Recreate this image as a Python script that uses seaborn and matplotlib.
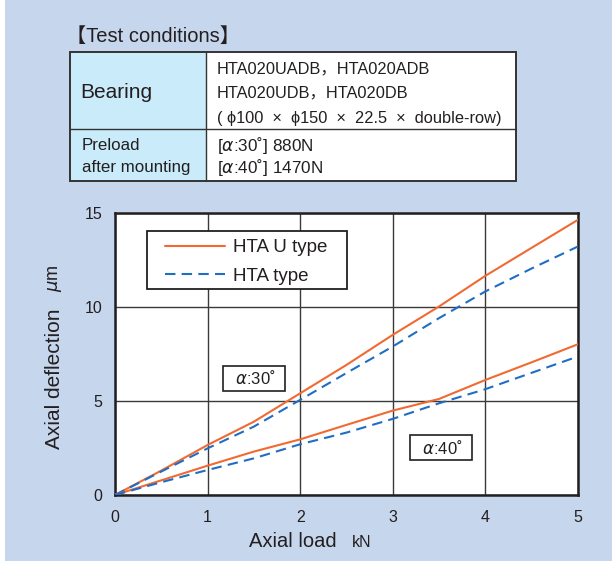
import matplotlib
matplotlib.use("Agg")
import matplotlib.pyplot as plt
from matplotlib.patches import Rectangle
import seaborn as sns
import pandas as pd

# Axial load (kN) and axial deflection (um) for each bearing type / contact angle
load = [0, 0.5, 1, 1.5, 2, 2.5, 3, 3.5, 4, 4.5, 5]
u_type_30 = [0, 1.30, 2.66, 3.90, 5.41, 6.92, 8.52, 10.03, 11.66, 13.15, 14.64]
hta_type_30 = [0, 1.25, 2.48, 3.64, 5.06, 6.49, 7.90, 9.41, 10.83, 12.05, 13.22]
u_type_40 = [0, 0.78, 1.56, 2.31, 2.96, 3.73, 4.49, 5.11, 6.12, 7.06, 8.02]
hta_type_40 = [0, 0.68, 1.33, 1.95, 2.70, 3.32, 4.05, 4.88, 5.63, 6.50, 7.37]

series_names = ["HTA U type", "HTA type"]
x_ticks = [0, 1, 2, 3, 4, 5]
y_ticks = [0, 5, 10, 15]

table_bearing = ["HTA020UADB，HTA020ADB", "HTA020UDB，HTA020DB",
                 "( ϕ100  ×  ϕ150  ×  22.5  ×  double-row)"]
table_preload = ["[$\\alpha$:30˚] 880N", "[$\\alpha$:40˚] 1470N"]

BG = "#c6d6ec"
CELL = "#c9ebfa"
ORANGE = "#f06a32"
BLUE = "#1f6ec4"
INK = "#231f20"

sns.set_theme(style="white")
plt.rcParams["font.family"] = ["Liberation Sans", "DejaVu Sans", "Noto Sans CJK JP"]
plt.rcParams["text.color"] = INK
plt.rcParams["mathtext.fontset"] = "dejavusans"

frames = []
for name, angle, vals in [(series_names[0], "30", u_type_30),
                          (series_names[1], "30", hta_type_30),
                          (series_names[0], "40", u_type_40),
                          (series_names[1], "40", hta_type_40)]:
    frames.append(pd.DataFrame({"load": load, "deflection": vals,
                                "type": name, "angle": angle}))
df = pd.concat(frames, ignore_index=True)

fig = plt.figure(figsize=(6.12, 5.62), dpi=100)
fig.patch.set_facecolor("white")
# light blue panel
fig.patches.append(Rectangle((5 / 612, 1 / 562), 607 / 612, 561 / 562,
                             transform=fig.transFigure, facecolor=BG,
                             edgecolor="none", zorder=-10))

# --- Test conditions table ---
fig.text(66 / 612, 1 - 36 / 562, "【Test conditions】", fontsize=14.5,
         va="center", ha="left",
         family=["Liberation Sans", "Noto Sans CJK JP"])
tx0, tx1, tsplit = 70 / 612, 516 / 612, 206 / 612
ty_top, ty_mid, ty_bot = 1 - 52 / 562, 1 - 129 / 562, 1 - 181 / 562
fig.patches.append(Rectangle((tx0, ty_bot), tsplit - tx0, ty_top - ty_bot,
                             transform=fig.transFigure, facecolor=CELL,
                             edgecolor="none", zorder=1))
fig.patches.append(Rectangle((tsplit, ty_bot), tx1 - tsplit, ty_top - ty_bot,
                             transform=fig.transFigure, facecolor="white",
                             edgecolor="none", zorder=1))
fig.patches.append(Rectangle((tx0, ty_bot), tx1 - tx0, ty_top - ty_bot,
                             transform=fig.transFigure, facecolor="none",
                             edgecolor="#333333", linewidth=1.4, zorder=3))
fig.add_artist(plt.Line2D([tx0, tx1], [ty_mid, ty_mid], transform=fig.transFigure,
                          color="#333333", linewidth=1.0, zorder=3))
fig.add_artist(plt.Line2D([tsplit, tsplit], [ty_bot, ty_top], transform=fig.transFigure,
                          color="#333333", linewidth=1.0, zorder=3))

fig.text(80 / 612, 1 - 93 / 562, "Bearing", fontsize=15, va="center", ha="left", zorder=4)
fig.text(82 / 612, 1 - 145 / 562, "Preload", fontsize=12.2, va="center", ha="left", zorder=4)
fig.text(82 / 612, 1 - 168 / 562, "after mounting", fontsize=12.2, va="center", ha="left", zorder=4)
for i, line in enumerate(table_bearing):
    fig.text(217 / 612, 1 - [69, 93, 118][i] / 562, line, fontsize=11.8,
             va="center", ha="left", zorder=4,
             family=["Liberation Sans", "DejaVu Sans", "Noto Sans CJK JP"])
for i, line in enumerate(table_preload):
    fig.text(217 / 612, 1 - [145, 168][i] / 562, line, fontsize=12.3,
             va="center", ha="left", zorder=4,
             family=["Liberation Sans", "DejaVu Sans"])

# --- Deflection chart ---
ax = fig.add_axes([115 / 612, 1 - 495 / 562, 463 / 612, 282 / 562])
ax.set_facecolor("white")

palette = {series_names[0]: ORANGE, series_names[1]: BLUE}
dash = (0, (5, 3.0))
for angle in ["30", "40"]:
    for name in series_names:
        sub = df[(df["angle"] == angle) & (df["type"] == name)]
        sns.lineplot(data=sub, x="load", y="deflection", ax=ax,
                     color=palette[name], linewidth=1.5,
                     linestyle="-" if name == series_names[0] else dash,
                     estimator=None, legend=False, zorder=3)

ax.set_xlim(0, 5)
ax.set_ylim(0, 15)
ax.set_xticks(x_ticks)
ax.set_yticks(y_ticks)
ax.grid(True, color="#3a3a3a", linewidth=1.0)
ax.set_axisbelow(True)
for sp in ax.spines.values():
    sp.set_visible(True)
    sp.set_color(INK)
    sp.set_linewidth(1.8)
ax.tick_params(axis="both", length=0, labelsize=11.5, colors=INK)
ax.tick_params(axis="x", pad=11)
ax.tick_params(axis="y", pad=9)
ax.set_xlabel("")
ax.set_ylabel("")

fig.text(293 / 612, 1 - 547 / 562, "Axial load", fontsize=14.5, ha="center", va="baseline")
fig.text(362 / 612, 1 - 547 / 562, "kN", fontsize=11.5, ha="center", va="baseline")
fig.text(55 / 612, 1 - 379 / 562, "Axial deflection", fontsize=15, ha="center",
         va="center", rotation=90)
fig.text(55 / 612, 1 - 278 / 562, "$\\mu$m", fontsize=13, ha="center",
         va="center", rotation=90)

# legend: frame drawn as its own box, entries placed inside it
fig.patches.append(Rectangle((147 / 612, 1 - 289 / 562), 200 / 612, 58 / 562,
                             transform=fig.transFigure, facecolor="white",
                             edgecolor=INK, linewidth=1.3, zorder=4))
handles = [plt.Line2D([], [], color=ORANGE, linewidth=1.5),
           plt.Line2D([], [], color=BLUE, linewidth=1.5, linestyle=dash)]
leg = fig.legend(handles, series_names, loc="upper left",
                 bbox_to_anchor=(165 / 612, 1 - 239 / 562), fontsize=13.5,
                 frameon=False, handlelength=3.2, handletextpad=0.45,
                 borderpad=0, labelspacing=0.62, borderaxespad=0)
leg.set_zorder(5)

# contact angle labels
box = dict(boxstyle="square,pad=0.2", facecolor="white", edgecolor=INK, linewidth=1.2)
ax.text(1.5, 6.2, "  $\\alpha$:30˚  ", fontsize=12, ha="center", va="center", bbox=box, zorder=5)
ax.text(3.52, 2.52, "  $\\alpha$:40˚  ", fontsize=12, ha="center", va="center", bbox=box, zorder=5)

fig.savefig("out.png", dpi=100, facecolor=fig.get_facecolor())
